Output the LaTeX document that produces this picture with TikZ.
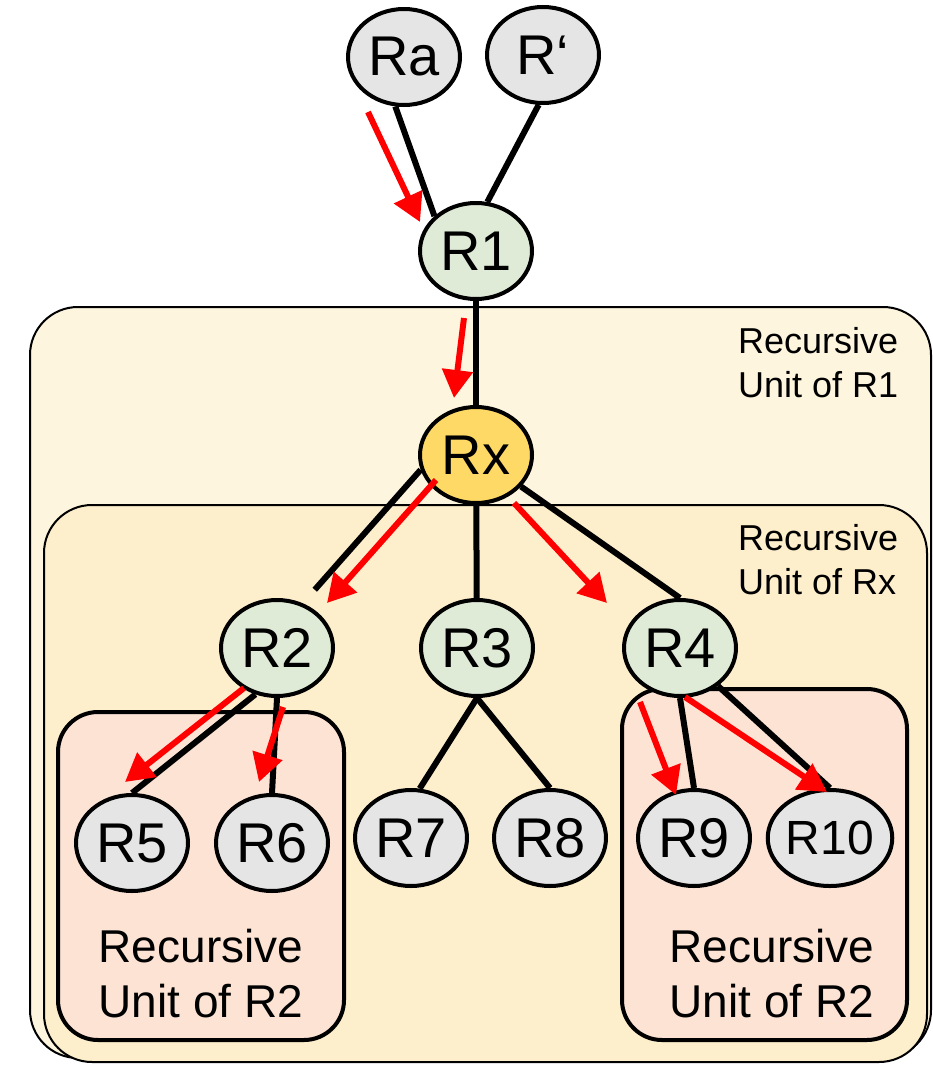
\documentclass[tikz,border=0pt]{standalone}
\usepackage{fontspec}
\setmainfont{Liberation Sans}
\usetikzlibrary{shapes.geometric, arrows.meta}
\definecolor{unitouter}{HTML}{FDF5DE}
\definecolor{unitinner}{HTML}{FDEECC}
\definecolor{unitleaf}{HTML}{FCE3D4}
\definecolor{nodegreen}{HTML}{DFEBD7}
\definecolor{nodegray}{HTML}{E5E5E5}
\definecolor{nodegold}{HTML}{FFD966}

\begin{document}
\begin{tikzpicture}[x=1pt, y=-1pt]
    % Styles
    \tikzstyle{unit} = [draw, line width=2pt, rounded corners=48pt]
    \tikzstyle{leafunit} = [draw, line width=4pt, rounded corners=40pt, fill=unitleaf]
    \tikzstyle{rnode} = [draw, ellipse, line width=4pt, minimum width=112pt, minimum height=96pt, inner sep=0pt, font=\fontsize{56}{60}\selectfont]
    \tikzstyle{unitlabel} = [font=\fontsize{36}{44}\selectfont, align=left, anchor=north west, inner sep=0pt]
    \tikzstyle{leaflabel} = [font=\fontsize{46}{55}\selectfont, align=center, anchor=north, inner sep=0pt]
    \tikzstyle{link} = [draw, line width=6pt]
    \tikzstyle{flow} = [draw, red, line width=6pt, -{Triangle[length=28pt, width=30pt]}]

    \useasboundingbox (0,0) rectangle (933,1065);

    % Recursive units
    \draw[unit, fill=unitouter] (30,307) rectangle (931,1058);
    \draw[unit, fill=unitinner] (44,505) rectangle (927,1062);
    \draw[leafunit] (58,712) rectangle (344,1040);
    \draw[leafunit] (622,689) rectangle (907,1040);

    \node[unitlabel] (lbl-r1) at (738,327) {Recursive\\Unit of R1};
    \node[unitlabel] (lbl-rx) at (738,524) {Recursive\\Unit of Rx};
    \node[leaflabel] (lbl-r2a) at (201,929) {Recursive\\Unit of R2};
    \node[leaflabel] (lbl-r2b) at (772,929) {Recursive\\Unit of R2};

    % Top: parents of R1
    \node[rnode, fill=nodegray] (Ra) at (404,57) {Ra};
    \node[rnode, fill=nodegray] (Rp) at (543,55) {R‘};
    \node[rnode, fill=nodegreen] (R1) at (476,251) {R1};
    \node[rnode, fill=nodegold] (Rx) at (476,455) {Rx};

    % Children of Rx
    \node[rnode, fill=nodegreen] (R2) at (277,648) {R2};
    \node[rnode, fill=nodegreen] (R3) at (477,648) {R3};
    \node[rnode, fill=nodegreen] (R4) at (680,648) {R4};

    % Leaves
    \node[rnode, fill=nodegray] (R5) at (132,843) {R5};
    \node[rnode, fill=nodegray] (R6) at (272,843) {R6};
    \node[rnode, fill=nodegray] (R7) at (411,838) {R7};
    \node[rnode, fill=nodegray] (R8) at (550,838) {R8};
    \node[rnode, fill=nodegray] (R9) at (694,838) {R9};
    \node[rnode, fill=nodegray, font=\fontsize{48}{52}\selectfont] (R10) at (830,838) {R10};

    % Edges
    \draw[link] (Ra.-100) -- (R1.140);
    \draw[link] (Rp.-95) -- (R1.77);
    \draw[link] (R1) -- (Rx);
    \draw[link, shorten >=18pt] (Rx.195) -- (R2.60);
    \draw[link] (Rx) -- (R3);
    \draw[link] (Rx.-35) -- (R4.north);
    \draw[link] (R2.-115) -- (R5.north);
    \draw[link] (R2.south) -- (R6.north);
    \draw[link] (R3.south) -- (R7.80);
    \draw[link] (R3.south) -- (R8.north);
    \draw[link] (R4.south) -- (R9.north);
    \draw[link] (R4.-45) -- (R10.north);

    % Red arrows
    \draw[flow] ([shift={(-36,5)}]Ra.south) -- ([shift={(2,-29)}]R1.west);
    \draw[flow] ([shift={(-12,17)}]R1.south) -- ([shift={(-22,-7)}]Rx.north);
    \draw[flow] ([shift={(18,25)}]Rx.west) -- ([shift={(50,5)}]R2.north);
    \draw[flow] ([shift={(38,-2)}]Rx.south) -- ([shift={(-73,5)}]R4.north);
    \draw[flow] ([shift={(-33,-10)}]R2.south) -- ([shift={(-7,-11)}]R5.north);
    \draw[flow] ([shift={(6,9)}]R2.south) -- ([shift={(-13,-11)}]R6.north);
    \draw[flow] ([shift={(-40,4)}]R4.south) -- ([shift={(-18,7)}]R9.north);
    \draw[flow] ([shift={(5,-1)}]R4.south) -- ([shift={(-3,4)}]R10.north);
\end{tikzpicture}
\end{document}
